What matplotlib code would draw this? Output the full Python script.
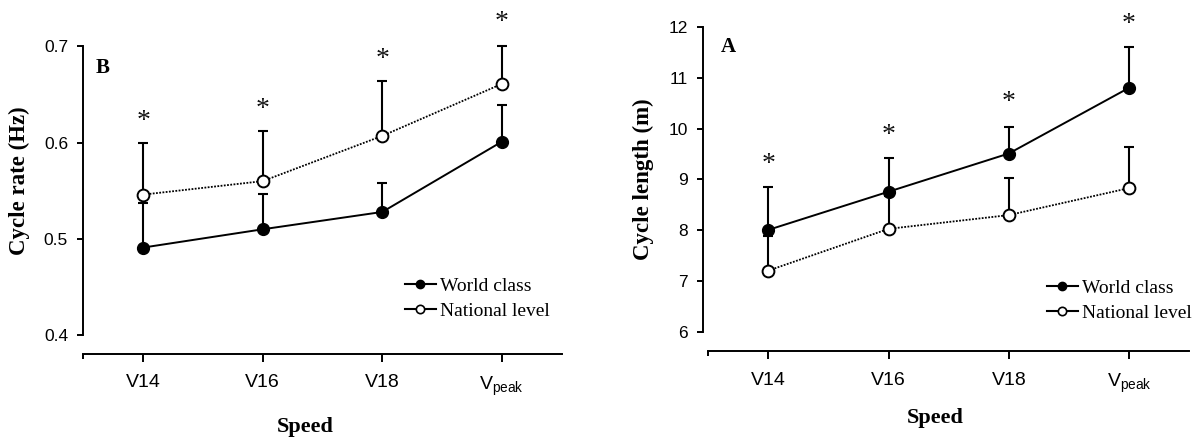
import matplotlib.pyplot as plt
from matplotlib.lines import Line2D

speeds = ["V14", "V16", "V18", r"V$_{\mathregular{peak}}$"]

# cycle rate (Hz)
rate_world = [0.491, 0.510, 0.528, 0.601]
rate_world_sd = [0.046, 0.037, 0.030, 0.038]
rate_nat = [0.546, 0.560, 0.607, 0.661]
rate_nat_sd = [0.054, 0.052, 0.057, 0.039]
rate_star = [0.628, 0.641, 0.693, 0.731]

# cycle length (m)
len_world = [8.01, 8.76, 9.51, 10.80]
len_world_sd = [0.84, 0.66, 0.52, 0.80]
len_nat = [7.21, 8.03, 8.30, 8.83]
len_nat_sd = [0.68, 0.65, 0.72, 0.81]
len_star = [9.42, 9.99, 10.63, 12.17]

SERIF = "Liberation Serif"
SANS = "Liberation Sans"

W, H = 1201, 441
fig = plt.figure(figsize=(W / 100, H / 100), dpi=100)
ax_b = fig.add_axes([83.3 / W, (H - 353.5) / H, 478.4 / W, 345.7 / H])
ax_a = fig.add_axes([708.3 / W, (H - 351) / H, 480.8 / W, 344.6 / H])


def draw_panel(ax, world, world_sd, nat, nat_sd, stars, ylim, yticks, ylabel,
               letter, letter_xy, legend_xy, xlabel_xy, ylabel_x, spine_shift):
    # spine position first: it resets the tick settings
    ax.spines["left"].set_position(("outward", spine_shift))
    for side in ("top", "right"):
        ax.spines[side].set_visible(False)
    for side in ("left", "bottom"):
        ax.spines[side].set_linewidth(1.4)

    x = range(len(world))
    ax.errorbar(x, nat, yerr=[[0] * 4, nat_sd], fmt="none", ecolor="black",
                elinewidth=1.5, capsize=3.4, capthick=1.5, zorder=2)
    ax.errorbar(x, world, yerr=[[0] * 4, world_sd], fmt="none", ecolor="black",
                elinewidth=1.5, capsize=3.4, capthick=1.5, zorder=2)
    ax.plot(x, nat, color="black", lw=1.3, ls=(0, (1, 0.8)), marker="o",
            ms=8.5, mfc="white", mec="black", mew=1.4, zorder=3)
    ax.plot(x, world, color="black", lw=1.4, ls="-", marker="o",
            ms=8.5, mfc="black", mec="black", zorder=4)
    for xi, s in zip(x, stars):
        ax.annotate("*", (xi, s), xytext=(0, -9), textcoords="offset points",
                    ha="center", va="baseline", fontsize=20, family=SERIF,
                    color="#111111", annotation_clip=False)

    ax.set_xlim(-0.5, 3.5)
    ax.set_ylim(*ylim)
    ax.set_xticks(list(x))
    ax.set_xticklabels(speeds, family=SANS, fontsize=14)
    ax.set_xticks([-0.5], minor=True)
    ax.set_yticks(yticks)
    ax.set_yticklabels([f"{t:g}" for t in yticks], family=SANS, fontsize=12.5)
    ax.spines["left"].set_bounds(yticks[0], yticks[-1])
    ax.tick_params(axis="x", which="major", direction="out", length=6,
                   width=1.4, pad=9)
    ax.tick_params(axis="x", which="minor", direction="out", length=3.5,
                   width=1.4)
    ax.tick_params(axis="y", direction="out", length=4.5, width=1.4, pad=6.5)

    ax.set_xlabel("Speed", family=SERIF, fontweight="bold", fontsize=16,
                  va="center")
    ax.xaxis.set_label_coords(*xlabel_xy)
    ax.set_ylabel(ylabel, family=SERIF, fontweight="bold", fontsize=16.5,
                  va="center")
    ax.yaxis.set_label_coords(ylabel_x, 0.5)
    ax.text(*letter_xy, letter, transform=ax.transAxes, family=SERIF,
            fontweight="bold", fontsize=15, ha="left", va="center")

    handles = [
        Line2D([], [], color="black", lw=1.5, marker="o", ms=6,
               mfc="black", mec="black"),
        Line2D([], [], color="black", lw=1.5, marker="o", ms=6,
               mfc="white", mec="black", mew=1.2),
    ]
    ax.legend(handles, ["World class", "National level"], loc="center left",
              bbox_to_anchor=legend_xy, frameon=False,
              prop={"family": SERIF, "size": 14}, handlelength=1.6,
              handletextpad=0.2, labelspacing=0.38, borderpad=0,
              borderaxespad=0)


draw_panel(ax_b, rate_world, rate_world_sd, rate_nat, rate_nat_sd, rate_star,
           (0.381, 0.74), [0.4, 0.5, 0.6, 0.7], "Cycle rate (Hz)", "B",
           (0.0265, 0.826), (0.672, 0.159), (0.4634, -0.2126), -0.134, 0)
draw_panel(ax_a, len_world, len_world_sd, len_nat, len_nat_sd, len_star,
           (5.63, 12.4), [6, 7, 8, 9, 10, 11, 12], "Cycle length (m)", "A",
           (0.027, 0.882), (0.704, 0.1465), (0.4715, -0.194), -0.134, 3.6)

fig.savefig("out.png", dpi=100)
